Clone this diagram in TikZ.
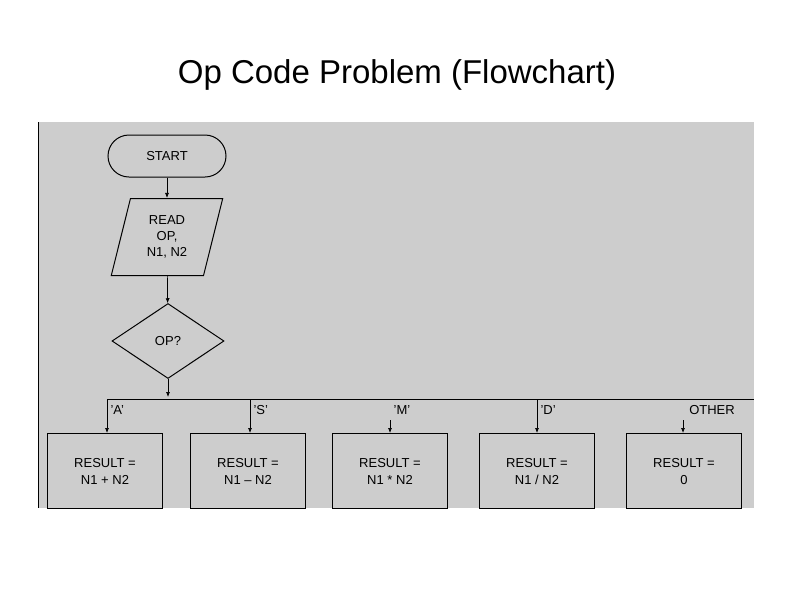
\documentclass[tikz,border=0pt]{standalone}
\usepackage{fontspec}
\setmainfont{Liberation Sans}
\usetikzlibrary{shapes.geometric,arrows.meta}
\definecolor{panel}{RGB}{205,205,205}
\begin{document}
\begin{tikzpicture}[x=1pt,y=-1pt,
  box/.style={draw,line width=1.2pt,fill=panel,minimum width=115pt,minimum height=75pt,anchor=north,font=\fontsize{13}{17}\selectfont,align=center,text depth=0pt},
  lab/.style={font=\fontsize{13}{16}\selectfont},
  arr/.style={-{Latex[length=5pt,width=4pt]},line width=0.7pt}]
\useasboundingbox (0,0) rectangle (794,595);
\node[font=\fontsize{33}{40}\selectfont] (title) at (397,75) {Op Code Problem (Flowchart)};
\fill[panel] (38,122) rectangle (754,508);
\draw[line width=1pt] (38,122) -- (38,508);
\begin{scope}
\clip (38,122) rectangle (754,508);
\node[draw,line width=1pt,rounded corners=21pt,minimum width=118pt,minimum height=42pt,lab] (start) at (167,156) {START};
\node[draw,line width=1pt,trapezium,trapezium left angle=76,trapezium right angle=104,minimum width=97pt,minimum height=77pt,inner sep=0pt,lab,align=center] (read) at (167,237) {READ\\OP,\\N1, N2};
\node[draw,line width=1pt,diamond,minimum width=112pt,minimum height=75pt,inner sep=0pt,aspect=1.5,lab] (op) at (168,341) {OP?};
\coordinate (j) at (168,397);
\draw[arr] (start) -- (read);
\draw[arr] (read) -- (op);
\draw[arr] (op) -- (j);
\draw[line width=0.8pt] (107,399) -- (754,399);
\node[box] (b1) at (105,433) {RESULT =\\N1 + N2};
\node[box] (b2) at (248,433) {RESULT =\\N1 -- N2};
\node[box] (b3) at (390,433) {RESULT =\\N1 * N2};
\node[box] (b4) at (537,433) {RESULT =\\N1 / N2};
\node[box] (b5) at (684,433) {RESULT =\\0};
\coordinate (a1) at (107,399); \coordinate (a2) at (250,399);
\coordinate (a3) at (390,420); \coordinate (a4) at (537,399);
\coordinate (a5) at (683,420);
\draw[arr] (a1) -- (a1 |- b1.north);
\draw[arr] (a2) -- (a2 |- b2.north);
\draw[arr] (a3) -- (a3 |- b3.north);
\draw[arr] (a4) -- (a4 |- b4.north);
\draw[arr] (a5) -- (a5 |- b5.north);
\node[lab,anchor=west] (la) at (107,410) {'A'};
\node[lab,anchor=west] (ls) at (250,410) {'S'};
\node[lab] (lm) at (402,410) {'M'};
\node[lab,anchor=west] (ld) at (537,410) {'D'};
\node[lab] (lo) at (712,410) {OTHER};
\end{scope}
\end{tikzpicture}
\end{document}
